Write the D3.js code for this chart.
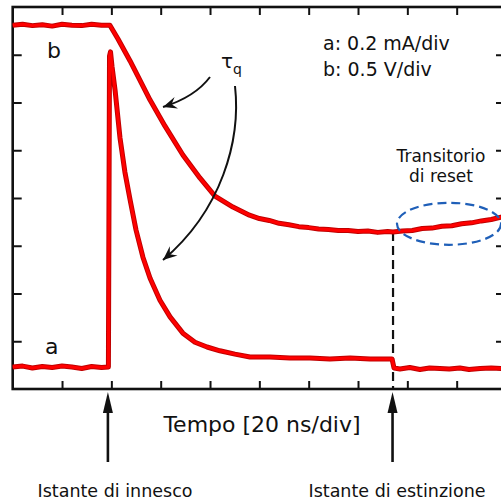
<!DOCTYPE html>
<html>
<head>
<script src="https://d3js.org/d3.v7.min.js"></script>
<style>
  body { margin: 0; background: white; }
  svg { display: block; background: white; }
  text { font-family: "DejaVu Sans", sans-serif; fill: #111; }
</style>
</head>
<body>
<svg width="501" height="502"></svg>
<script>
// tempo in ns (20 ns/div), ampiezza in divisioni (0..8)
const bTime = [0, 4, 8, 12, 16, 20, 24, 28, 32, 36, 39.4, 42.7, 47.6, 55.7, 61.7, 69.0, 75.9, 82.0, 89.3,
  96, 100, 104, 108, 112, 116, 120, 124, 128, 132, 136, 140, 144, 148, 152, 154.2, 158, 162, 166, 170,
  174, 178, 182, 186, 190, 194, 198, 200];
const bVal = [7.62, 7.64, 7.61, 7.63, 7.60, 7.64, 7.62, 7.61, 7.64, 7.62, 7.62, 7.33, 6.87, 6.05, 5.51, 4.90, 4.42, 4.04, 3.81,
  3.64, 3.57, 3.53, 3.47, 3.44, 3.40, 3.38, 3.35, 3.34, 3.32, 3.32, 3.30, 3.31, 3.28, 3.30, 3.29, 3.31, 3.32, 3.36, 3.37,
  3.41, 3.42, 3.46, 3.48, 3.52, 3.55, 3.60, 3.62];

const aTime = [0, 4, 8, 12, 16, 20, 24, 28, 32, 36, 38.8, 39.25, 39.65, 40.26, 41.5, 43.5, 45.5, 47.6, 50.0,
  52.8, 55.7, 59.7, 63.8, 69.0, 73.9, 78.8, 84.0, 90.1, 96.2, 104.3, 112.4, 120.5, 128.6, 136.8, 144.9, 153.8,
  154.6, 157.0, 161, 165.1, 169, 173.2, 177, 181.3, 185, 189.5, 194, 198.0, 200];
const aVal = [0.46, 0.48, 0.44, 0.47, 0.45, 0.48, 0.46, 0.43, 0.47, 0.45, 0.46, 6.97, 7.06, 6.76, 6.26, 5.26, 4.54, 3.96, 3.33,
  2.76, 2.32, 1.86, 1.51, 1.17, 0.98, 0.88, 0.80, 0.73, 0.67, 0.67, 0.65, 0.65, 0.63, 0.65, 0.63, 0.63,
  0.44, 0.42, 0.45, 0.41, 0.44, 0.43, 0.42, 0.44, 0.41, 0.43, 0.44, 0.43, 0.43];

const xTicks = d3.range(20, 200, 20);
const yTicks = d3.range(1, 8);
const tTrigger = 39.4;   // istante di innesco
const tOff = 154.2;      // istante di estinzione

const svg = d3.select("svg");

const x = d3.scaleLinear().domain([0, 200]).range([12.7, 506]);
const y = d3.scaleLinear().domain([0, 8]).range([389, 7]);

// tacche (verso l'interno)
function ticks(g) {
  g.select(".domain").remove();
  g.selectAll(".tick line").attr("stroke", "#111").attr("stroke-width", 2);
}
svg.append("g").attr("transform", `translate(0,${y(0)})`)
  .call(d3.axisBottom(x).tickValues(xTicks).tickSizeInner(-8).tickSizeOuter(0).tickFormat("")).call(ticks);
svg.append("g").attr("transform", `translate(0,${y(8)})`)
  .call(d3.axisTop(x).tickValues(xTicks).tickSizeInner(-8).tickSizeOuter(0).tickFormat("")).call(ticks);
svg.append("g").attr("transform", `translate(${x(0)},0)`)
  .call(d3.axisLeft(y).tickValues(yTicks).tickSizeInner(-9).tickSizeOuter(0).tickFormat("")).call(ticks);
svg.append("g").attr("transform", `translate(${x(200)},0)`)
  .call(d3.axisRight(y).tickValues(yTicks).tickSizeInner(-10).tickSizeOuter(0).tickFormat("")).call(ticks);

// cornice
svg.append("rect")
  .attr("x", x(0)).attr("y", y(8))
  .attr("width", x(200) - x(0)).attr("height", y(0) - y(8))
  .attr("fill", "none").attr("stroke", "#111").attr("stroke-width", 2.6);

// linea tratteggiata estinzione
svg.append("line")
  .attr("x1", x(tOff)).attr("x2", x(tOff))
  .attr("y1", y(3.29)).attr("y2", y(0))
  .attr("stroke", "#111").attr("stroke-width", 2.2).attr("stroke-dasharray", "9,5");

// tracce
const line = d3.line().x(d => x(d[0])).y(d => y(d[1]));
[[aTime, aVal], [bTime, bVal]].forEach(([t, v]) => {
  const pts = t.map((d, i) => [d, v[i]]);
  svg.append("path").datum(pts).attr("d", line)
    .attr("fill", "none").attr("stroke", "#c00000").attr("stroke-width", 5).attr("stroke-linejoin", "round");
  svg.append("path").datum(pts).attr("d", line)
    .attr("fill", "none").attr("stroke", "#ff0000").attr("stroke-width", 3).attr("stroke-linejoin", "round");
});

// ellisse transitorio di reset
svg.append("ellipse")
  .attr("cx", x(176.9)).attr("cy", y(3.46))
  .attr("rx", x(21.1) - x(0)).attr("ry", y(0) - y(0.44))
  .attr("fill", "none").attr("stroke", "#1f5fb8").attr("stroke-width", 2.2).attr("stroke-dasharray", "9,5");

// frecce tau
svg.append("defs").append("marker")
  .attr("id", "barb").attr("viewBox", "-14 -7 16 14")
  .attr("refX", 0).attr("refY", 0)
  .attr("markerWidth", 16).attr("markerHeight", 14)
  .attr("markerUnits", "userSpaceOnUse").attr("orient", "auto")
  .append("path").attr("d", "M0,0 L-14,-6 L-9,0 L-14,6 Z").attr("fill", "#111");

svg.append("path").attr("d", "M210,77 Q195,97 163,107")
  .attr("fill", "none").attr("stroke", "#111").attr("stroke-width", 2).attr("marker-end", "url(#barb)");
svg.append("path").attr("d", "M235,86 C241,140 222,210 163,260")
  .attr("fill", "none").attr("stroke", "#111").attr("stroke-width", 2).attr("marker-end", "url(#barb)");

// frecce verticali
[tTrigger - 0.8, tOff - 0.2].forEach(t => {
  const px = x(t);
  svg.append("line").attr("x1", px).attr("x2", px).attr("y1", 462).attr("y2", 408)
    .attr("stroke", "#111").attr("stroke-width", 2.6);
  svg.append("path").attr("d", `M${px},392 L${px - 5},413 L${px + 5},413 Z`).attr("fill", "#111");
});

// testi
const txt = (s, px, py, size, anchor) => svg.append("text")
  .attr("x", px).attr("y", py).attr("font-size", size).attr("text-anchor", anchor || "start").text(s);

txt("b", 47, 58, 22);
txt("a", 45, 354, 22);
const tau = txt("τ", 221, 68, 20);
tau.append("tspan").attr("font-size", 14).attr("dy", 6).text("q");
txt("a: 0.2 mA/div", 323, 50, 19);
txt("b: 0.5 V/div", 323, 76, 19);
txt("Transitorio", 441, 162, 17, "middle");
txt("di reset", 441, 182, 17, "middle");
txt("Tempo [20 ns/div]", 262, 432, 22, "middle");
txt("Istante di innesco", 115, 497, 17.5, "middle");
txt("Istante di estinzione", 397, 497, 17.5, "middle");
</script>
</body>
</html>
